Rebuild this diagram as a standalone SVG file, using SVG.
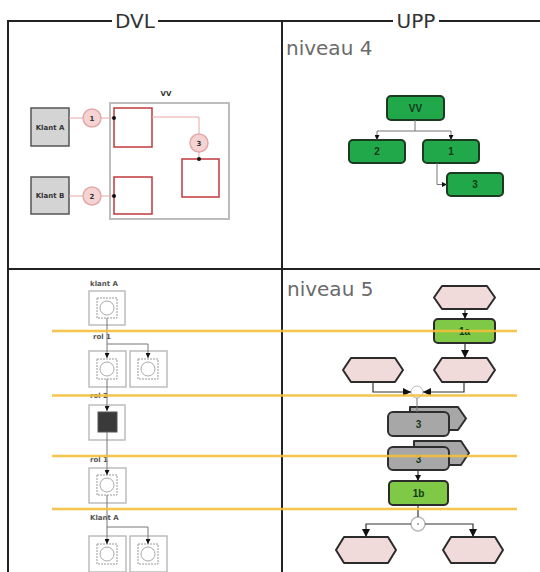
<svg xmlns="http://www.w3.org/2000/svg" width="540" height="572" viewBox="0 0 540 572">
<style>
.frame{stroke:#222;stroke-width:2;fill:none}
.hdr{font-family:"DejaVu Sans",sans-serif;font-size:20px;fill:#333;text-anchor:middle}
.niv{font-family:"DejaVu Sans",sans-serif;font-size:20px;fill:#6a6a6a}
.sm{font-family:"DejaVu Sans",sans-serif;font-size:7px;font-weight:bold;fill:#333;text-anchor:middle}
.lbl{font-family:"DejaVu Sans",sans-serif;font-size:7px;font-weight:bold;fill:#555}
.gbox{fill:#d4d4d4;stroke:#555;stroke-width:1.5}
.red{fill:#fff;stroke:#c0393b;stroke-width:1.5}
.pc{fill:#f5d3d3;stroke:#e4a9a9;stroke-width:1.5}
.pl{stroke:#e6a8a8;stroke-width:1;fill:none}
.gn{fill:#21a84b;stroke:#1b3a1f;stroke-width:2}
.gt{font-family:"Liberation Sans",sans-serif;font-size:10px;font-weight:bold;fill:#123a18;text-anchor:middle}
.con{stroke:#777;stroke-width:1;fill:none}
.ob{fill:#fff;stroke:#bdbdbd;stroke-width:1.5}
.ib{fill:#fff;stroke:#999;stroke-width:1;stroke-dasharray:2,1}
.ic{fill:#fff;stroke:#aaa;stroke-width:1}
.hex{fill:#f1dada;stroke:#2b2b2b;stroke-width:2;stroke-linejoin:round}
.lg{fill:#80c946;stroke:#2b2b2b;stroke-width:2}
.gr{fill:#a7a7a7;stroke:#2e2e2e;stroke-width:2;stroke-linejoin:round}
.dk{stroke:#333;stroke-width:1.2;fill:none}
.yl{stroke:#f4bf3a;stroke-width:2.5;opacity:0.9}
</style>
<defs>
<marker id="a" viewBox="0 0 6 6" refX="6" refY="3" markerWidth="5" markerHeight="5" orient="auto"><path d="M0,0 L6,3 L0,6 Z" fill="#111"/></marker>
<marker id="a2" viewBox="0 0 6 6" refX="6" refY="3" markerWidth="7" markerHeight="7" orient="auto"><path d="M0,0 L6,3 L0,6 Z" fill="#111"/></marker>
</defs>

<g id="frame">
<path class="frame" d="M8,572 V21 H112 M158,21 H393 M439,21 H540 M282,21 V572 M8,269 H540"/>
<text class="hdr" x="135" y="28">DVL</text>
<text class="hdr" x="416" y="28">UPP</text>
<text class="niv" x="286" y="55">niveau 4</text>
<text class="niv" x="287" y="296">niveau 5</text>
</g>

<g id="dvl4">
<g id="klantA"><rect class="gbox" x="31" y="108" width="38" height="38"/><text class="sm" x="50" y="130">Klant A</text></g>
<g id="klantB"><rect class="gbox" x="31" y="177" width="38" height="37"/><text class="sm" x="50" y="198">Klant B</text></g>
<g id="vv"><rect x="110" y="103" width="119" height="116" fill="none" stroke="#bdbdbd" stroke-width="2"/><text class="sm" x="166" y="96" font-size="8">VV</text></g>
<g id="r1"><rect class="red" x="114" y="108" width="38" height="39"/></g>
<g id="r2"><rect class="red" x="114" y="177" width="38" height="37"/></g>
<g id="r3"><rect class="red" x="182" y="159" width="37" height="38"/></g>
<g id="c1"><circle class="pc" cx="92" cy="118" r="9"/><text class="sm" x="92" y="120.5">1</text></g>
<g id="c2"><circle class="pc" cx="92" cy="196" r="9"/><text class="sm" x="92" y="199" font-size="9">2</text></g>
<g id="c3"><circle class="pc" cx="199" cy="143" r="9"/><text class="sm" x="199" y="145.5">3</text></g>
</g>

<g id="upp4">
<g id="nVV"><rect class="gn" x="387" y="96" width="57" height="24" rx="4"/><text class="gt" x="415.5" y="111.5">VV</text></g>
<g id="n2"><rect class="gn" x="349" y="140" width="56" height="23" rx="4"/><text class="gt" x="377" y="155">2</text></g>
<g id="n1"><rect class="gn" x="423" y="140" width="56" height="23" rx="4"/><text class="gt" x="451" y="155">1</text></g>
<g id="n3"><rect class="gn" x="447" y="173" width="56" height="23" rx="4"/><text class="gt" x="475" y="188">3</text></g>
</g>

<g id="dvl5">
<text class="lbl" x="90" y="286">klant A</text>
<text class="lbl" x="93" y="339">rol 1</text>
<text class="lbl" x="90" y="398">rol 2</text>
<text class="lbl" x="90" y="462">rol 1</text>
<text class="lbl" x="90" y="520">Klant A</text>
<g id="b1"><rect class="ob" x="89" y="291" width="36" height="34"/><rect class="ib" x="97" y="298" width="20" height="20"/><circle class="ic" cx="107" cy="308" r="7"/></g>
<g id="b2"><rect class="ob" x="89" y="351" width="37" height="36"/><rect class="ib" x="97" y="359" width="20" height="20"/><circle class="ic" cx="107" cy="369" r="7"/></g>
<g id="b3"><rect class="ob" x="130" y="351" width="37" height="36"/><rect class="ib" x="138" y="359" width="20" height="20"/><circle class="ic" cx="148" cy="369" r="7"/></g>
<g id="b4"><rect class="ob" x="89" y="405" width="36" height="35"/><rect x="98" y="412" width="19" height="20" fill="#3a3a3a" stroke="#555"/></g>
<g id="b5"><rect class="ob" x="89" y="468" width="37" height="35"/><rect class="ib" x="97" y="475" width="20" height="20"/><circle class="ic" cx="107" cy="485" r="7"/></g>
<g id="b6"><rect class="ob" x="89" y="536" width="37" height="36"/><rect class="ib" x="97" y="544" width="20" height="20"/><circle class="ic" cx="107" cy="554" r="7"/></g>
<g id="b7"><rect class="ob" x="130" y="536" width="37" height="36"/><rect class="ib" x="138" y="544" width="20" height="20"/><circle class="ic" cx="148" cy="554" r="7"/></g>
</g>

<g id="upp5">
<g id="h1"><polygon class="hex" points="434,297.5 442,286 487,286 495,297.5 487,309 442,309"/></g>
<g id="g1a"><rect class="lg" x="434" y="319" width="61" height="24" rx="4"/><text class="gt" x="464.5" y="335">1a</text></g>
<g id="h2"><polygon class="hex" points="434,370 442,358 487,358 495,370 487,382 442,382"/></g>
<g id="h3"><polygon class="hex" points="343,370 351,358 395,358 403,370 395,382 351,382"/></g>
<g id="m1"><circle cx="417" cy="392" r="6" fill="#fff" stroke="#bbb" stroke-width="1"/></g>
<g id="s1"><path class="gr" d="M410,407 H458 L466,418.5 L458,430 H410 Z"/><rect class="gr" x="388" y="412" width="61" height="24" rx="5"/><text class="gt" x="418.5" y="428" fill="#222">3</text></g>
<g id="s2"><path class="gr" d="M414,441 H461 L469,453 L461,465 H414 Z"/><rect class="gr" x="388" y="447" width="61" height="23" rx="5"/><text class="gt" x="418.5" y="462.5" fill="#222">3</text></g>
<g id="g1b"><rect class="lg" x="389" y="481" width="59" height="24" rx="4"/><text class="gt" x="418.5" y="497">1b</text></g>
<g id="m2"><circle cx="418" cy="524" r="7" fill="#fff" stroke="#bbb" stroke-width="1.5"/><circle cx="418" cy="524" r="1" fill="#999"/></g>
<g id="h4"><polygon class="hex" points="336,550 344,537 388,537 396,550 388,563 344,563"/></g>
<g id="h5"><polygon class="hex" points="443,550 451,537 495,537 503,550 495,563 451,563"/></g>
</g>

<g id="connectors">
<path class="pl" d="M69,118 H83 M101,118 H114"/>
<path class="pl" d="M69,196 H83 M101,196 H114"/>
<path class="pl" d="M152,117 H199 V134 M199,152 V159"/>
<circle cx="114" cy="118" r="2" fill="#111"/>
<circle cx="114" cy="196" r="2" fill="#111"/>
<circle cx="199" cy="159" r="2" fill="#111"/>
<path class="con" d="M415,120 V131 H377 V140" marker-end="url(#a)"/>
<path class="con" d="M415,131 H451 V140" marker-end="url(#a)"/>
<path class="con" d="M437,163 V184.5 H447" marker-end="url(#a)"/>
<path class="con" d="M107,318 V358" marker-end="url(#a)"/>
<path class="con" d="M107,344 H148 V358" marker-end="url(#a)"/>
<path class="con" d="M107,379 V411" marker-end="url(#a)"/>
<path class="con" d="M107,432 V475" marker-end="url(#a)"/>
<path class="con" d="M107,495 V544" marker-end="url(#a)"/>
<path class="con" d="M107,527 H148 V544" marker-end="url(#a)"/>
<path class="dk" d="M465,309 V319" marker-end="url(#a)"/>
<path class="dk" d="M465,343 V358" marker-end="url(#a2)"/>
<path class="dk" d="M373,382 V392 H411" marker-end="url(#a2)"/>
<path class="dk" d="M464,382 V392 H423" marker-end="url(#a2)"/>
<path class="con" d="M417,398 V412"/>
<path class="dk" d="M418,470 V481" marker-end="url(#a)"/>
<path class="dk" d="M418,505 V517"/>
<path class="dk" d="M411,524 H366 V537" marker-end="url(#a2)"/>
<path class="dk" d="M425,524 H473 V537" marker-end="url(#a2)"/>
</g>

<g id="lanes">
<line class="yl" x1="52" y1="331" x2="517" y2="331"/>
<line class="yl" x1="52" y1="395.5" x2="517" y2="395.5"/>
<line class="yl" x1="52" y1="456" x2="517" y2="456"/>
<line class="yl" x1="52" y1="509" x2="517" y2="509"/>
</g>
</svg>
